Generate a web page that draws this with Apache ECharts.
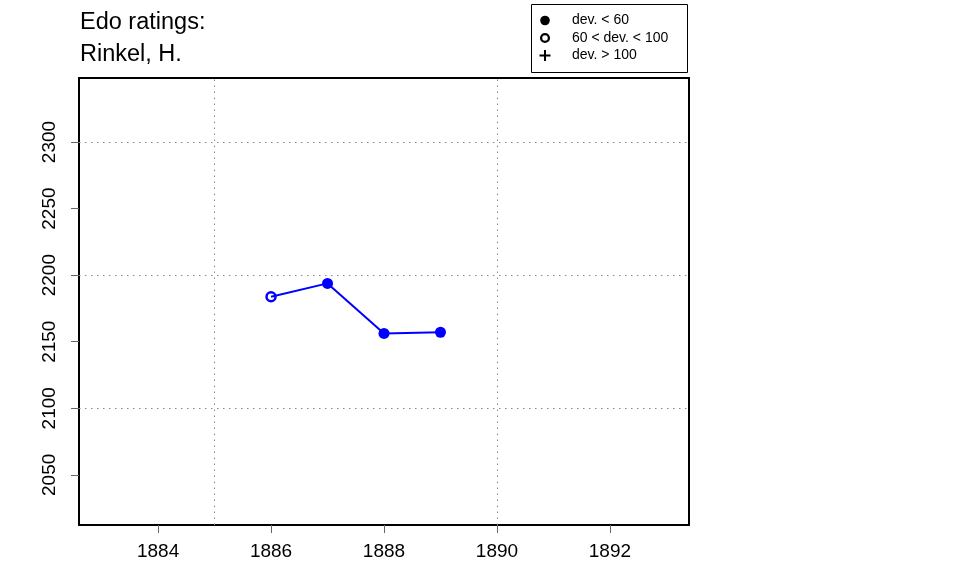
<!DOCTYPE html>
<html>
<head>
<meta charset="utf-8">
<script src="https://cdn.jsdelivr.net/npm/echarts@6/dist/echarts.min.js"></script>
<style>
html,body{margin:0;padding:0;background:#fff;}
#chart{width:960px;height:576px;}
</style>
</head>
<body>
<div id="chart"></div>
<script>
// ---- data ----
var years = [1886, 1887, 1888, 1889];
var ratings = [2183.8, 2193.8, 2156.2, 2157.1];
var devClass = ['mid', 'low', 'low', 'low']; // low: dev<60, mid: 60<dev<100, high: dev>100
var xTicks = [1884, 1886, 1888, 1890, 1892];
var yTicks = [2050, 2100, 2150, 2200, 2250, 2300];
var xGrid = [1885, 1890];
var yGrid = [2100, 2200, 2300];
var legendLabels = ['dev. < 60', '60 < dev. < 100', 'dev. > 100'];
var titleLines = ['Edo ratings:', 'Rinkel, H.'];

var FONT = '"Liberation Sans", Arial, Helvetica, sans-serif';
var BLUE = '#0000ff';

var points = years.map(function (y, i) {
  var item = { value: [y, ratings[i]] };
  if (devClass[i] === 'mid') {
    item.symbol = 'circle';
    item.symbolSize = 9;
    item.itemStyle = { color: 'rgba(0,0,0,0)', borderColor: BLUE, borderWidth: 2.5 };
  } else if (devClass[i] === 'high') {
    item.symbol = 'path://M5,0H7V5H12V7H7V12H5V7H0V5H5Z';
    item.symbolSize = 11;
  }
  return item;
});

var markData = xGrid.map(function (v) { return { xAxis: v }; })
  .concat(yGrid.map(function (v) { return { yAxis: v }; }));

var chart = echarts.init(document.getElementById('chart'), null, { renderer: 'canvas' });

var legendX = 545, legendTextX = 572, legendRows = [20.5, 38, 55.5];

chart.setOption({
  animation: false,
  backgroundColor: '#ffffff',
  title: {
    text: titleLines.join('\n'),
    left: 75,
    top: 2,
    textStyle: { fontFamily: FONT, fontSize: 23.5, fontWeight: 'normal', color: '#000', lineHeight: 32 }
  },
  grid: {
    left: 79, top: 78, right: 271, bottom: 51,
    show: true, borderColor: '#000', borderWidth: 2, backgroundColor: 'transparent',
    containLabel: false
  },
  xAxis: {
    type: 'value',
    min: 1882.6, max: 1893.4,
    axisLine: { show: false },
    splitLine: { show: false },
    axisTick: { show: true, length: 8, customValues: xTicks, lineStyle: { color: '#666', width: 1 } },
    axisLabel: { customValues: xTicks, margin: 17, fontFamily: FONT, fontSize: 19, color: '#000',
      formatter: function (v) { return String(v); } }
  },
  yAxis: {
    type: 'value',
    min: 2012.3, max: 2348.1,
    axisLine: { show: false },
    splitLine: { show: false },
    axisTick: { show: true, length: 8, customValues: yTicks, lineStyle: { color: '#666', width: 1 } },
    axisLabel: { customValues: yTicks, rotate: 90, margin: 20, fontFamily: FONT, fontSize: 19, color: '#000',
      formatter: function (v) { return String(v); } }
  },
  series: [{
    type: 'line',
    data: points,
    symbol: 'circle',
    symbolSize: 11,
    itemStyle: { color: BLUE },
    lineStyle: { color: BLUE, width: 2 },
    z: 3,
    markLine: {
      silent: true,
      symbol: ['none', 'none'],
      label: { show: false },
      lineStyle: { color: '#888', width: 1, type: [1.5, 4.5] },
      data: markData,
      z: 1
    }
  }],
  graphic: [
    { type: 'rect', shape: { x: 531.5, y: 4.5, width: 156, height: 68 },
      style: { fill: '#fff', stroke: '#000', lineWidth: 1 }, z: 10 },
    { type: 'circle', shape: { cx: legendX, cy: legendRows[0], r: 4.8 },
      style: { fill: '#000' }, z: 11 },
    { type: 'circle', shape: { cx: legendX, cy: legendRows[1], r: 3.9 },
      style: { fill: 'none', stroke: '#000', lineWidth: 2.3 }, z: 11 },
    { type: 'line', shape: { x1: legendX - 5.5, y1: legendRows[2], x2: legendX + 5.5, y2: legendRows[2] },
      style: { stroke: '#000', lineWidth: 2 }, z: 11 },
    { type: 'line', shape: { x1: legendX, y1: legendRows[2] - 5.5, x2: legendX, y2: legendRows[2] + 5.5 },
      style: { stroke: '#000', lineWidth: 2 }, z: 11 },
    { type: 'text', x: legendTextX, y: legendRows[0],
      style: { text: legendLabels[0], font: '14px ' + FONT, fill: '#000', verticalAlign: 'middle' }, z: 11 },
    { type: 'text', x: legendTextX, y: legendRows[1],
      style: { text: legendLabels[1], font: '14px ' + FONT, fill: '#000', verticalAlign: 'middle' }, z: 11 },
    { type: 'text', x: legendTextX, y: legendRows[2],
      style: { text: legendLabels[2], font: '14px ' + FONT, fill: '#000', verticalAlign: 'middle' }, z: 11 }
  ]
});
</script>
</body>
</html>
